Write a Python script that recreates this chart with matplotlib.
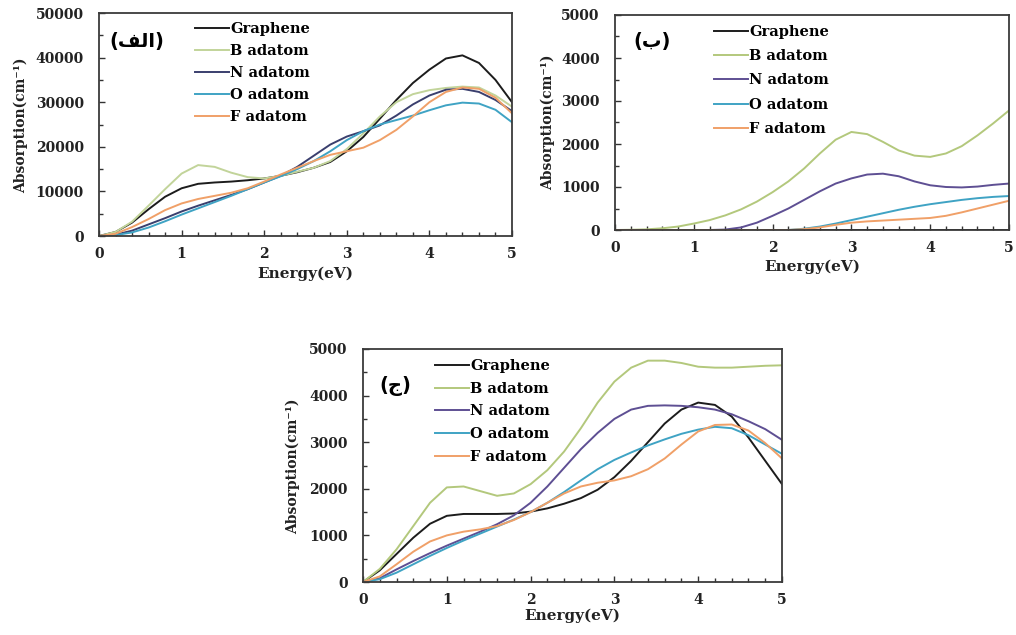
import matplotlib
matplotlib.use("Agg")
import matplotlib.pyplot as plt
from matplotlib.ticker import MultipleLocator

# ---------------- data ----------------
energy = [0.0, 0.2, 0.4, 0.6, 0.8, 1.0, 1.2, 1.4, 1.6, 1.8, 2.0, 2.2, 2.4,
          2.6, 2.8, 3.0, 3.2, 3.4, 3.6, 3.8, 4.0, 4.2, 4.4, 4.6, 4.8, 5.0]
series_names = ["Graphene", "B adatom", "N adatom", "O adatom", "F adatom"]

# panel (alef)
a_graphene = [0, 900, 3000, 6000, 8800, 10700, 11700, 12000, 12200, 12500, 12900, 13500, 14300,
              15300, 16600, 19000, 22200, 26300, 30500, 34300, 37300, 39800, 40500, 38800, 35000, 30000]
a_B = [0, 900, 3200, 6800, 10500, 14000, 15900, 15500, 14200, 13200, 12900, 13500, 14400,
       15300, 16800, 19500, 23000, 26800, 30000, 31800, 32700, 33200, 33500, 33300, 31500, 29000]
a_N = [0, 300, 1200, 2600, 4000, 5500, 6800, 8000, 9200, 10500, 12000, 13500, 15500,
       18000, 20500, 22300, 23500, 24800, 27000, 29500, 31500, 32800, 33000, 32300, 30500, 28000]
a_O = [0, 200, 800, 1900, 3300, 4800, 6200, 7600, 9000, 10500, 12000, 13400, 15000,
       16800, 19000, 21500, 23500, 25000, 26000, 27000, 28200, 29300, 29900, 29700, 28300, 25500]
a_F = [0, 500, 2000, 3800, 5800, 7300, 8300, 9000, 9700, 10700, 12200, 13800, 15300,
       16800, 18200, 19000, 19800, 21500, 23800, 26800, 30000, 32300, 33300, 33000, 31000, 27500]

# panel (be)
b_graphene = [0] * 26
b_B = [0, 5, 15, 40, 80, 150, 230, 340, 480, 660, 880, 1130, 1430,
       1780, 2100, 2280, 2230, 2050, 1850, 1730, 1700, 1780, 1950, 2200, 2480, 2780]
b_N = [0, 0, 0, 0, 0, 0, 0, 10, 60, 170, 330, 500, 700,
       900, 1080, 1200, 1290, 1310, 1250, 1130, 1040, 1000, 990, 1010, 1050, 1080]
b_O = [0, 0, 0, 0, 0, 0, 0, 0, 0, 0, 0, 0, 30,
       80, 150, 230, 310, 390, 470, 540, 600, 650, 700, 740, 770, 790]
b_F = [0, 0, 0, 0, 0, 0, 0, 0, 0, 0, 0, 0, 20,
       60, 120, 170, 200, 220, 240, 260, 280, 330, 410, 500, 590, 680]

# panel (jim)
c_graphene = [0, 250, 600, 950, 1250, 1420, 1460, 1460, 1460, 1470, 1510, 1580, 1680,
              1800, 1980, 2250, 2600, 3000, 3400, 3700, 3850, 3800, 3550, 3100, 2600, 2100]
c_B = [0, 280, 700, 1200, 1700, 2030, 2050, 1950, 1850, 1900, 2100, 2400, 2800,
       3300, 3850, 4300, 4600, 4750, 4750, 4700, 4620, 4600, 4600, 4620, 4640, 4650]
c_N = [0, 80, 270, 450, 620, 780, 930, 1080, 1240, 1430, 1700, 2050, 2450,
       2850, 3200, 3500, 3700, 3780, 3790, 3780, 3750, 3700, 3600, 3450, 3280, 3050]
c_O = [0, 60, 200, 380, 560, 730, 890, 1040, 1190, 1340, 1500, 1700, 1930,
       2180, 2420, 2620, 2780, 2930, 3060, 3180, 3270, 3330, 3300, 3150, 2950, 2750]
c_F = [0, 120, 380, 650, 870, 1000, 1080, 1130, 1200, 1330, 1500, 1700, 1900,
       2050, 2130, 2180, 2270, 2420, 2650, 2950, 3230, 3370, 3380, 3250, 2980, 2650]

panel_labels = ["(\ufed2\ufedf\ufe8d)", "(\ufe8f)", "(\ufe9d)"]
x_label = "Energy(eV)"
y_label = "Absorption(cm\u207b\u00b9)"

colors = ["#1c1c1c", "#b3c87c", "#5e4f93", "#3fa3c4", "#f0a068"]
colors_a = ["#1c1c1c", "#c2d49a", "#3a3f6e", "#3fa3c4", "#f0a068"]

# ---------------- figure ----------------
W, H = 1016, 635
fig = plt.figure(figsize=(W / 100, H / 100), dpi=100)
plt.rcParams['font.family'] = ['DejaVu Serif']
plt.rcParams['font.weight'] = 'bold'


def px_axes(l, t, r, b):
    return fig.add_axes([l / W, 1 - b / H, (r - l) / W, (b - t) / H])


def style(ax, ymax, ymajor, ylabel_px, xlabel_dy):
    ax.set_xlim(0, 5)
    ax.set_ylim(0, ymax)
    ax.xaxis.set_major_locator(MultipleLocator(1))
    ax.xaxis.set_minor_locator(MultipleLocator(0.2))
    ax.yaxis.set_major_locator(MultipleLocator(ymajor))
    ax.yaxis.set_minor_locator(MultipleLocator(ymajor / 2))
    ax.tick_params(which='both', direction='in', top=False, right=False,
                   labelsize=10, colors='#333333', labelcolor='#222222')
    ax.tick_params(which='major', length=4, width=1.0)
    ax.tick_params(which='minor', length=3, width=1.0)
    ax.tick_params(axis='x', pad=8)
    ax.tick_params(axis='y', pad=11)
    for s in ax.spines.values():
        s.set_color('#3a3a3a')
        s.set_linewidth(1.3)
    ax.set_xlabel(x_label, fontsize=11, fontweight='bold', color='#222222')
    ax.set_ylabel(y_label, fontsize=10, fontweight='bold', color='#222222')
    ax.xaxis.labelpad = xlabel_dy
    ax.yaxis.set_label_coords(*ylabel_px, transform=fig.transFigure)


def legend(ax, x_px, y_px, spacing):
    ax.legend(loc='upper left', bbox_to_anchor=(x_px / W, 1 - y_px / H),
              bbox_transform=fig.transFigure, frameon=False, fontsize=10.5,
              handlelength=2.3, handletextpad=0.1, labelspacing=spacing,
              borderpad=0, borderaxespad=0)


# panel alef
ax1 = px_axes(99, 13, 512, 236)
for vals, name, c in zip([a_graphene, a_B, a_N, a_O, a_F], series_names, colors_a):
    ax1.plot(energy, vals, color=c, lw=1.4, label=name)
style(ax1, 50000, 10000, (28 / W, 1 - 125 / H), 4)
legend(ax1, 195, 22, 0.55)
fig.text(137 / W, 1 - 41 / H, panel_labels[0], family='DejaVu Sans', fontsize=14,
         ha='center', va='center', fontweight='bold')

# panel be
ax2 = px_axes(615, 15, 1009, 230)
for vals, name, c in zip([b_graphene, b_B, b_N, b_O, b_F], series_names, colors):
    ax2.plot(energy, vals, color=c, lw=1.4, label=name)
style(ax2, 5000, 1000, (555 / W, 1 - 122 / H), 3)
legend(ax2, 714, 25, 0.7)
fig.text(652 / W, 1 - 42 / H, panel_labels[1], family='DejaVu Sans', fontsize=14,
         ha='center', va='center', fontweight='bold')

# panel jim
ax3 = px_axes(363, 349, 782, 582)
for vals, name, c in zip([c_graphene, c_B, c_N, c_O, c_F], series_names, colors):
    ax3.plot(energy, vals, color=c, lw=1.4, label=name)
style(ax3, 5000, 1000, (300 / W, 1 - 466 / H), 1)
legend(ax3, 435, 359, 0.6)
fig.text(395 / W, 1 - 386 / H, panel_labels[2], family='DejaVu Sans', fontsize=14,
         ha='center', va='center', fontweight='bold')

fig.savefig("out.png", dpi=100)
